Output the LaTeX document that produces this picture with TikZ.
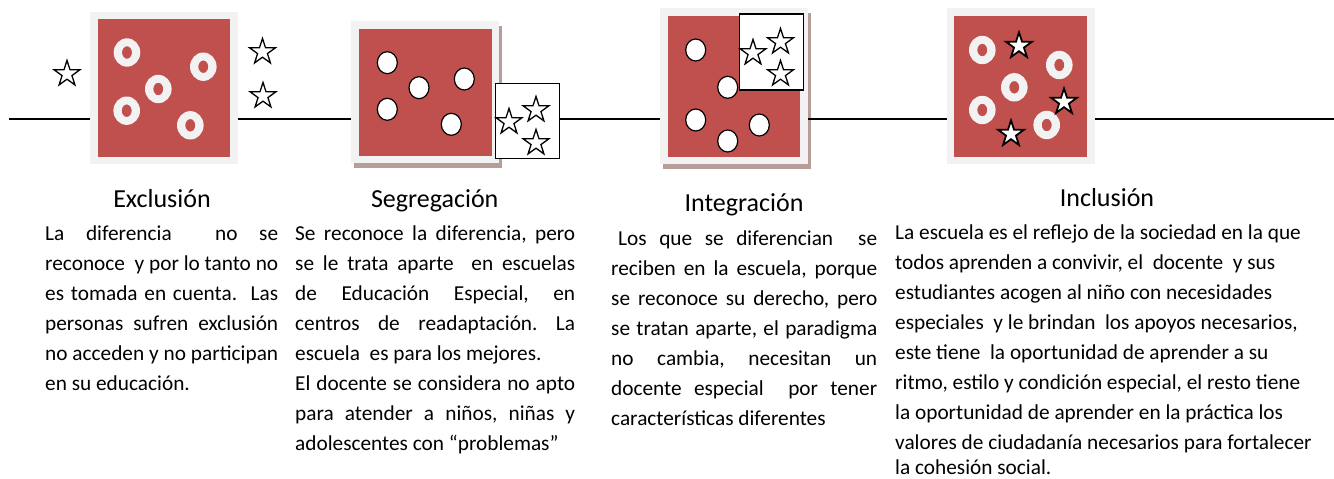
\documentclass[tikz,border=0pt]{standalone}
\usepackage{fontspec}
\setmainfont{Carlito}
\usetikzlibrary{shapes.geometric}
\definecolor{boxred}{HTML}{C0504D}
\definecolor{framegray}{HTML}{F2F2F2}
\definecolor{shadowc}{HTML}{B89C9A}
\newcommand\jus[2]{\makebox[#1pt][s]{#2}}
\frenchspacing
\begin{document}
\begin{tikzpicture}[x=1pt,y=-1pt,
  frame/.style={fill=framegray, inner sep=0, outer sep=0},
  redsq/.style={fill=boxred, inner sep=0, outer sep=0},
  starbox/.style={draw=black, fill=white, line width=1.4pt, inner sep=0, minimum width=64pt, minimum height=76pt},
  wstar/.style={star, star points=5, star point ratio=2.6, minimum size=27pt, inner sep=0, draw=black, fill=white, line width=1.3pt},
  bstar/.style={wstar, line width=1.8pt},
  dot/.style={draw=black, fill=white, line width=1.2pt},
  ringc/.style={fill=framegray, even odd rule},
  title/.style={font=\fontsize{26}{30}\selectfont, anchor=base, inner sep=0},
  body/.style={font=\fontsize{21.3}{30}\selectfont, anchor=base west, inner sep=0},
  conn/.style={line width=2pt}
]
\useasboundingbox (0,0) rectangle (1334,479);
\fill[white] (0,0) rectangle (1334,479);

% shadows
\fill[shadowc] (353.5,25.5) rectangle (501.5,168);
\fill[shadowc] (662.5,12.5) rectangle (811,169);

% frames and red squares
\node[frame, minimum width=148pt, minimum height=152.4pt] (f1) at (164,88) {};
\node[redsq, minimum width=132pt, minimum height=137.4pt] (r1) at (164,88) {};
\node[frame, minimum width=148pt, minimum height=142.3pt] (f2) at (425,92.2) {};
\node[redsq, minimum width=133pt, minimum height=127pt] (r2) at (425.5,92.5) {};
\node[frame, minimum width=148pt, minimum height=156.3pt] (f3) at (734,86.2) {};
\node[redsq, minimum width=132pt, minimum height=141pt] (r3) at (734,86.5) {};
\node[frame, minimum width=148pt, minimum height=156.3pt] (f4) at (1021,86.2) {};
\node[redsq, minimum width=133pt, minimum height=141pt] (r4) at (1020.5,86.5) {};

% rings box 1
\foreach \cx/\cy in {127/52.5, 203.3/66.7, 158.3/89, 126.7/110.7, 190.3/125.3}
  \fill[ringc] (\cx,\cy) ellipse (13.3pt and 14.2pt) (\cx,\cy) ellipse (5pt and 6.3pt);
% rings box 4
\foreach \cx/\cy in {982.3/50, 1059.3/65, 1014.3/87.3, 982.3/110, 1046.7/125}
  \fill[ringc] (\cx,\cy) ellipse (13.3pt and 14.2pt) (\cx,\cy) ellipse (5pt and 6.3pt);

% white dots box 2
\foreach \cx/\cy in {387.3/62.7, 419/87.7, 464.3/79, 387.3/109.3, 451.3/124.3}
  \draw[dot] (\cx,\cy) ellipse (10pt and 11pt);

% star boxes
\node[starbox, minimum height=75.4pt] (s2) at (527.3,121) {};
\node[starbox] (s3) at (771.7,52) {};

% white dots box 3
\foreach \cx/\cy in {695.7/50, 727.7/87.3, 695.7/120, 759.3/125, 727.7/141}
  \draw[dot] (\cx,\cy) ellipse (10pt and 11pt);

% stars
\node[wstar] (st1) at (67,74) {};
\node[wstar] (st2) at (262.5,52) {};
\node[wstar] (st3) at (263,96) {};
\node[wstar] (st4) at (509,122) {};
\node[wstar] (st5) at (536,110) {};
\node[wstar] (st6) at (536,143) {};
\node[wstar] (st7) at (753,53) {};
\node[wstar] (st8) at (780.5,42) {};
\node[wstar] (st9) at (780.5,74) {};
\node[bstar] (st10) at (1019,46) {};
\node[bstar] (st11) at (1064,102) {};
\node[bstar] (st12) at (1011,134) {};

% connecting line
\coordinate (L0) at (9,118.5);
\coordinate (L5) at (1334,118.5);
\draw[conn] (L0) -- (L0 -| f1.west);
\draw[conn] (f1.east |- L0) -- (f2.west |- L0);
\draw[conn] (s2.east |- L0) -- (f3.west |- L0);
\draw[conn] (f3.east |- L0) -- (f4.west |- L0);
\draw[conn] (f4.east |- L0) -- (L5);

% titles
\node[title] (t1) at (162,207) {Exclusión};
\node[title] (t2) at (434.7,207) {Segregación};
\node[title] (t3) at (744,211.5) {Integración};
\node[title] (t4) at (1107,206.7) {Inclusión};

% column 1
\node[body] (a1) at (45,240) {\jus{233}{La diferencia\ \ no se}};
\node[body] (a2) at (45,270) {\jus{233}{reconoce\ \ y por lo tanto no}};
\node[body] (a3) at (45,300) {\jus{233}{es tomada en cuenta.\ \ Las}};
\node[body] (a4) at (45,330) {\jus{233}{personas sufren exclusión}};
\node[body] (a5) at (45,360) {\jus{233}{no acceden y no participan}};
\node[body] (a6) at (45,390) {en su educación.};

% column 2
\node[body] (b1) at (295,240) {\jus{280}{Se reconoce la diferencia, pero}};
\node[body] (b2) at (295,270) {\jus{280}{se le trata aparte\ \ en escuelas}};
\node[body] (b3) at (295,300) {\jus{280}{de Educación Especial, en}};
\node[body] (b4) at (295,330) {\jus{280}{centros de readaptación. La}};
\node[body] (b5) at (295,360) {escuela\ \ es para los mejores.};
\node[body] (b6) at (295,390) {\jus{280}{El docente se considera no apto}};
\node[body] (b7) at (295,420) {\jus{280}{para atender a niños, niñas y}};
\node[body] (b8) at (295,450) {adolescentes con “problemas”};

% column 3
\node[body] (c1) at (618,245) {\jus{259}{Los que se diferencian\ \ se}};
\node[body] (c2) at (611,275) {\jus{266}{reciben en la escuela, porque}};
\node[body] (c3) at (611,305) {\jus{266}{se reconoce su derecho, pero}};
\node[body] (c4) at (611,335) {\jus{266}{se tratan aparte, el paradigma}};
\node[body] (c5) at (611,365) {\jus{266}{no cambia, necesitan un}};
\node[body] (c6) at (611,395) {\jus{266}{docente especial\ \ por tener}};
\node[body] (c7) at (611,425) {características diferentes};

% column 4
\node[body] (d1) at (895,239.5) {La escuela es el reflejo de la sociedad en la que};
\node[body] (d2) at (895,269.5) {todos aprenden a convivir, el\ \ docente\ \ y sus};
\node[body] (d3) at (895,299.5) {estudiantes acogen al niño con necesidades};
\node[body] (d4) at (895,329.5) {especiales\ \ y le brindan\ \ los apoyos necesarios,};
\node[body] (d5) at (895,359.5) {este tiene\ \ la oportunidad de aprender a su};
\node[body] (d6) at (895,389.5) {ritmo, estilo y condición especial, el resto tiene};
\node[body] (d7) at (895,419.5) {la oportunidad de aprender en la práctica los};
\node[body] (d8) at (895,449.5) {valores de ciudadanía necesarios para fortalecer};
\node[body] (d9) at (895,474.5) {la cohesión social.};
\end{tikzpicture}
\end{document}
